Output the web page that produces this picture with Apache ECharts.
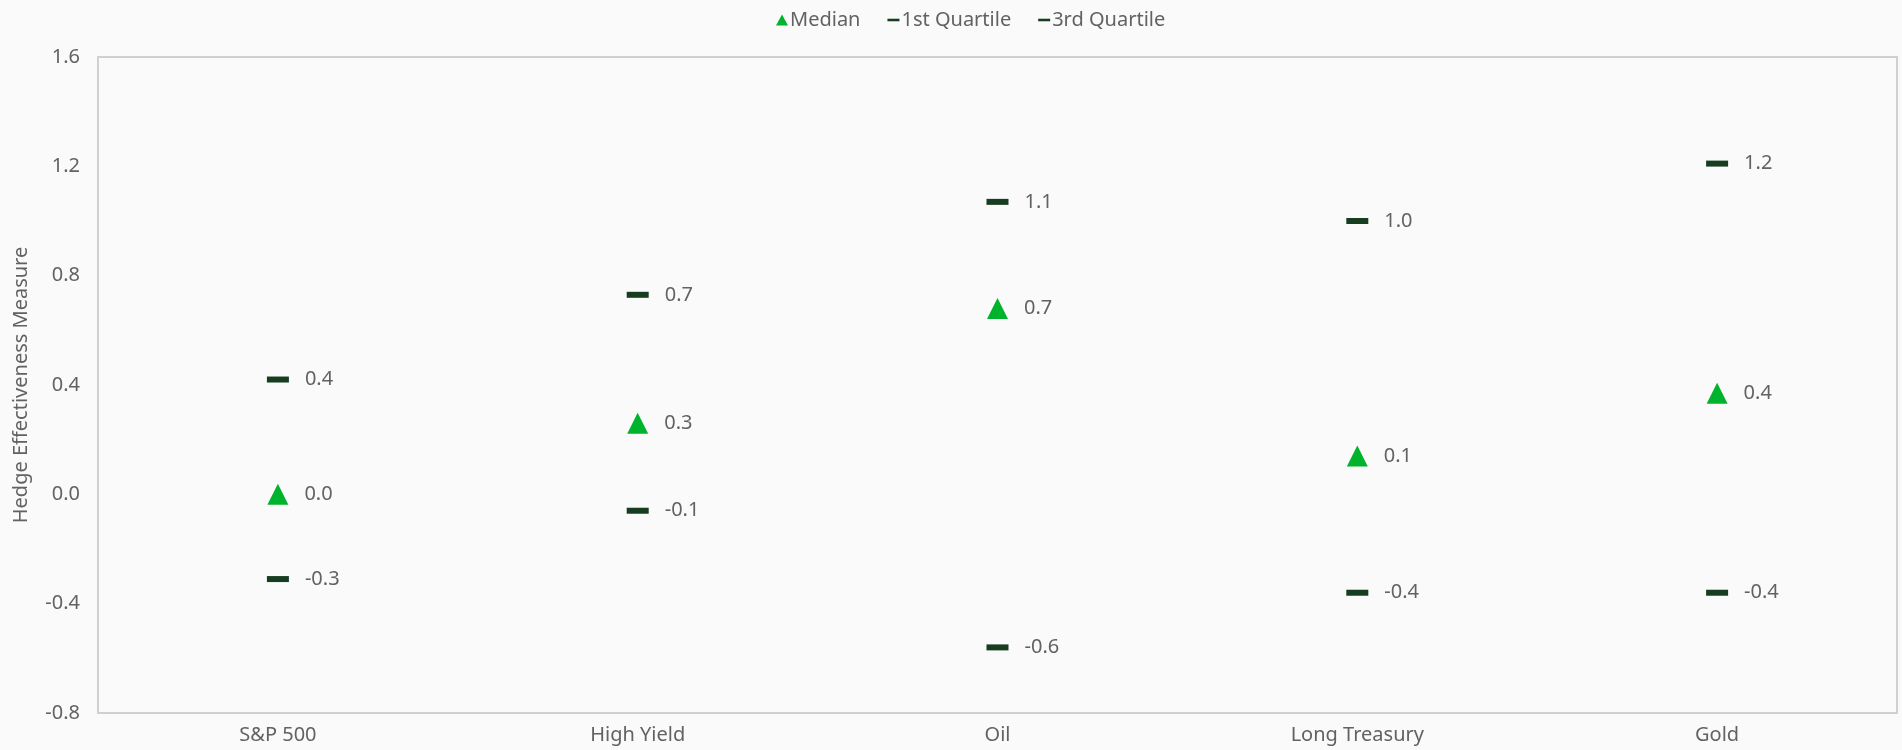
<!DOCTYPE html>
<html>
<head>
<meta charset="utf-8">
<script src="https://cdn.jsdelivr.net/npm/echarts@6/dist/echarts.min.js"></script>
<style>
  html, body { margin: 0; padding: 0; background: #fafafa; }
  #chart { width: 1902px; height: 750px; }
</style>
</head>
<body>
<div id="chart"></div>
<script>
// Asset classes on the x axis
const categories = ['S&P 500', 'High Yield', 'Oil', 'Long Treasury', 'Gold'];

// Hedge effectiveness statistics per asset class
const medianValues = [0.00, 0.26, 0.68, 0.14, 0.37];
const firstQuartileValues = [-0.31, -0.06, -0.56, -0.36, -0.36];
const thirdQuartileValues = [0.42, 0.73, 1.07, 1.00, 1.21];

// Value axis range and step
const yMin = -0.8;
const yMax = 1.6;
const yStep = 0.4;

const textColor = '#626262';
const fontFamily = 'Noto Sans, Open Sans, sans-serif';
const dashColor = '#173d20';
const triangleColor = '#00b32c';
const dashIcon = 'path://M0,0H14V3H0Z';

const valueLabel = {
  show: true,
  position: 'right',
  distance: 16,
  color: textColor,
  fontSize: 20,
  fontFamily: fontFamily,
  formatter: p => p.value.toFixed(1)
};

const chart = echarts.init(document.getElementById('chart'), null, { renderer: 'canvas' });

chart.setOption({
  backgroundColor: '#fafafa',
  animation: false,
  legend: {
    top: 5,
    left: 771,
    itemGap: 27,
    itemWidth: 12,
    itemHeight: 11,
    textStyle: { color: textColor, fontSize: 20, fontFamily: fontFamily, padding: [0, 0, 0, -3] },
    data: [
      { name: 'Median', icon: 'triangle', itemStyle: { color: triangleColor, opacity: 1 } },
      { name: '1st Quartile', icon: dashIcon, itemStyle: { color: dashColor, opacity: 1 } },
      { name: '3rd Quartile', icon: dashIcon, itemStyle: { color: dashColor, opacity: 1 } }
    ]
  },
  grid: {
    left: 98,
    right: 5,
    top: 57,
    bottom: 37,
    containLabel: false,
    outerBoundsMode: 'none',
    show: true,
    borderColor: '#d0d0d0',
    borderWidth: 2,
    backgroundColor: 'transparent'
  },
  xAxis: {
    type: 'category',
    data: categories,
    boundaryGap: true,
    axisLine: { show: false },
    axisTick: { show: false },
    splitLine: { show: false },
    axisLabel: { color: textColor, fontSize: 20, fontFamily: fontFamily, margin: 12 }
  },
  yAxis: {
    type: 'value',
    min: yMin,
    max: yMax,
    interval: yStep,
    name: 'Hedge Effectiveness Measure',
    nameLocation: 'middle',
    nameGap: 67,
    nameTextStyle: { color: textColor, fontSize: 20, fontFamily: fontFamily },
    axisLine: { show: false },
    axisTick: { show: false },
    splitLine: { show: false },
    axisLabel: {
      color: textColor,
      fontSize: 20,
      fontFamily: fontFamily,
      margin: 18,
      formatter: v => v.toFixed(1)
    }
  },
  series: [
    {
      name: 'Median',
      type: 'scatter',
      data: medianValues,
      symbol: 'triangle',
      symbolSize: [21, 21],
      itemStyle: { color: triangleColor, opacity: 1 },
      label: valueLabel,
      z: 3
    },
    {
      name: '1st Quartile',
      type: 'scatter',
      data: firstQuartileValues,
      symbol: 'rect',
      symbolSize: [22, 6],
      itemStyle: { color: dashColor, opacity: 1 },
      label: valueLabel,
      z: 2
    },
    {
      name: '3rd Quartile',
      type: 'scatter',
      data: thirdQuartileValues,
      symbol: 'rect',
      symbolSize: [22, 6],
      itemStyle: { color: dashColor, opacity: 1 },
      label: valueLabel,
      z: 2
    }
  ]
});
</script>
</body>
</html>
